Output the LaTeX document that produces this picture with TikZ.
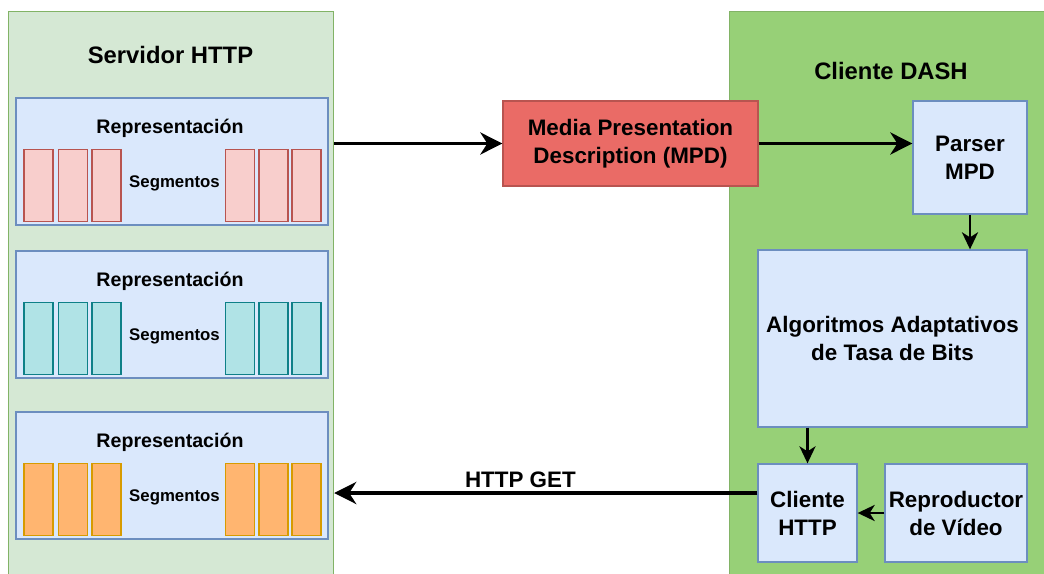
\documentclass[tikz,border=0pt]{standalone}
\usepackage{fontspec}
\setmainfont{Liberation Sans}
\usetikzlibrary{arrows.meta,positioning,calc}

\definecolor{srvfill}{HTML}{D5E8D4}
\definecolor{cltfill}{HTML}{97D077}
\definecolor{grnline}{HTML}{82B366}
\definecolor{bluefill}{HTML}{DAE8FC}
\definecolor{blueline}{HTML}{6C8EBF}
\definecolor{redfill}{HTML}{EA6B66}
\definecolor{redline}{HTML}{B85450}
\definecolor{pinkfill}{HTML}{F8CECC}
\definecolor{tealfill}{HTML}{B0E3E6}
\definecolor{tealline}{HTML}{0E8088}
\definecolor{orgfill}{HTML}{FFB570}
\definecolor{orgline}{HTML}{D79B00}

\tikzset{
  panel/.style={draw=grnline, line width=1.2pt, anchor=north west, inner sep=0pt},
  box/.style={draw=blueline, fill=bluefill, line width=1.3pt, inner sep=0pt,
              align=center, font=\fontsize{22.4}{28}\selectfont\bfseries},
  repbox/.style={draw=blueline, fill=bluefill, line width=1.3pt, inner sep=0pt,
                 minimum width=312pt, minimum height=127pt},
  seg/.style={line width=1.2pt, inner sep=0pt, minimum width=29pt, minimum height=72pt},
  title/.style={font=\fontsize{23.8}{28}\selectfont\bfseries},
  replabel/.style={font=\fontsize{19.6}{24}\selectfont\bfseries},
  seglabel/.style={font=\fontsize{16.8}{20}\selectfont\bfseries},
  bigarrow/.style={line width=3.8pt, -{Stealth[length=22pt, width=22pt, inset=7pt]}},
  smallarrow/.style={line width=2.8pt, -{Stealth[length=17pt, width=16pt, inset=5pt]}}
}

\begin{document}
\begin{tikzpicture}[x=1pt, y=-1pt]
\useasboundingbox (0,0) rectangle (1044,573);

% server and client panels (they run past the lower and right edges)
\node[panel, fill=srvfill, minimum width=325pt, minimum height=600pt] (srv) at (8,10.5) {};
\node[panel, fill=cltfill, minimum width=340pt, minimum height=600pt] (clt) at (729,10.5) {};

\node[title] (srvtitle) at (170.5,55) {Servidor HTTP};
\node[title] (clttitle) at (891,71) {Cliente DASH};

% three representations, each with its segments
\foreach \i/\cy/\f/\l in {1/161.5/pinkfill/redline, 2/314.5/tealfill/tealline, 3/475.5/orgfill/orgline}{
  \node[repbox] (rep\i) at (172,\cy) {};
  \node[replabel] (replab\i) at (170,\cy-33) {Representación};
  \node[seglabel] (seglab\i) at (174.5,\cy+22) {Segmentos};
  \foreach \j/\sx in {1/38.5, 2/73, 3/106.5, 4/240, 5/273.5, 6/306.5}{
    \node[seg, draw=\l, fill=\f] (seg\i\j) at (\sx,\cy+24) {};
  }
}

% media presentation description
\node[box, draw=redline, fill=redfill, minimum width=255pt, minimum height=85pt]
  (mpd) at (630.5,143.5) {Media Presentation\\Description (MPD)};

% client blocks
\node[box, minimum width=114pt, minimum height=113pt] (parser) at (970,157.5) {Parser\\MPD};
\node[box, minimum width=269pt, minimum height=177pt] (algo) at (892.5,338.5) {Algoritmos Adaptativos\\de Tasa de Bits};
\node[box, minimum width=99pt, minimum height=98pt] (chttp) at (807.5,513) {Cliente\\HTTP};
\node[box, minimum width=142pt, minimum height=98pt] (repro) at (956,513) {Reproductor\\de Vídeo};

% connectors
\draw[bigarrow] (srv.east |- mpd.west) -- (mpd.west);
\draw[bigarrow] (mpd.east) -- (parser.west |- mpd.east);
\draw[smallarrow] (parser.south) -- (parser.south |- algo.north);
\draw[smallarrow] (chttp.north |- algo.south) -- (chttp.north);
\draw[smallarrow] (repro.west) -- (chttp.east);

\coordinate (getstart) at ([yshift=20pt]chttp.west);
\draw[bigarrow] (getstart) -- (srv.east |- getstart)
  node[pos=0.56, above=1pt, fill=white, inner sep=2pt,
       font=\fontsize{22.4}{28}\selectfont\bfseries] (getlabel) {HTTP GET};
\end{tikzpicture}
\end{document}
